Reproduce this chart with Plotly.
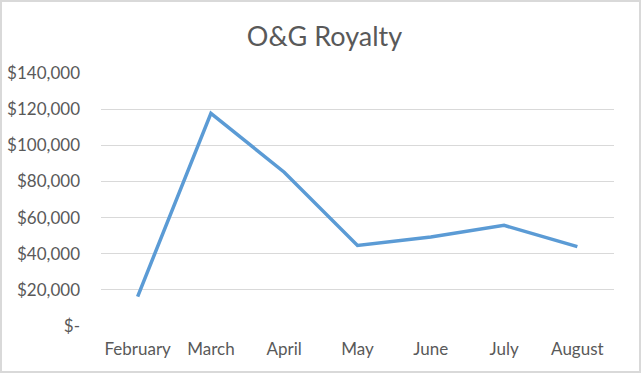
import plotly.graph_objects as go

months = ["February", "March", "April", "May", "June", "July", "August"]
royalty = [16300, 117700, 85100, 44600, 49200, 55700, 43900]
y_ticks = [0, 20000, 40000, 60000, 80000, 100000, 120000, 140000]
y_tick_labels = ["$-", "$20,000", "$40,000", "$60,000", "$80,000", "$100,000", "$120,000", "$140,000"]

W, H = 641, 373
L, R, T, B = 101, 27, 73, 47
pw, ph = W - L - R, H - T - B

fig = go.Figure()
fig.add_trace(go.Scatter(
    x=months, y=royalty, mode="lines",
    line=dict(color="#5b9bd5", width=3.5),
    hoverinfo="x+y",
))

font = "Lato, Carlito, Calibri, sans-serif"
fig.update_layout(
    width=W, height=H,
    margin=dict(l=L, r=R, t=T, b=B, pad=0, autoexpand=False),
    paper_bgcolor="white", plot_bgcolor="white",
    showlegend=False,
    title=dict(text="O&G Royalty", x=(324.5) / W, xanchor="center",
               y=1 - 37 / H, yanchor="middle",
               font=dict(family=font, size=27, color="#595959")),
    xaxis=dict(
        type="category", range=[-0.5, len(months) - 0.5],
        showgrid=False, zeroline=False, showline=False, automargin=False,
        ticks="", tickfont=dict(family=font, size=17, color="#595959"),
        ticklabelstandoff=11,
    ),
    yaxis=dict(
        range=[0, 140000], tickvals=y_ticks, ticktext=y_tick_labels,
        showgrid=True, gridcolor="#d9d9d9", gridwidth=1, automargin=False,
        zeroline=False, showline=False, ticks="",
        tickfont=dict(family=font, size=17, color="#595959"),
        ticklabelstandoff=20,
    ),
    shapes=[dict(
        type="rect", xref="paper", yref="paper",
        x0=-(L - 1) / pw, x1=1 + (R - 1) / pw,
        y0=-(B - 1) / ph, y1=1 + (T - 1) / ph,
        line=dict(color="#d9d9d9", width=2), layer="below",
    )],
)

fig.write_html(
    "out.html",
    config={"displayModeBar": False},
    post_script="document.body.style.margin='0';document.body.style.overflow='hidden';",
)
